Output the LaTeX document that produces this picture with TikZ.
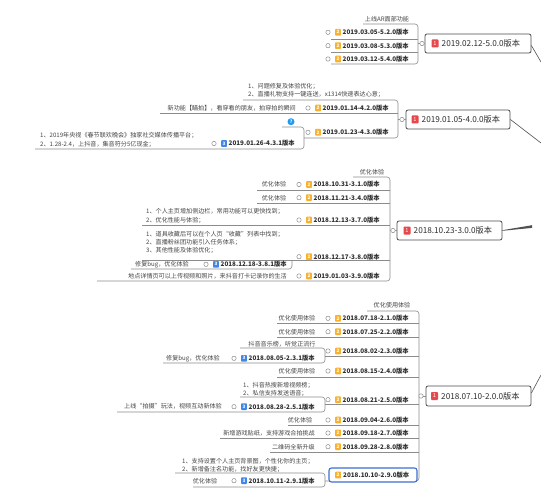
\documentclass[tikz,border=0pt]{standalone}
\usepackage{fontspec}
\newfontfamily\cjk{Noto Sans CJK SC}
\definecolor{lc}{HTML}{8C8C8C}
\definecolor{boxc}{HTML}{4A4A4A}
\definecolor{notec}{HTML}{444444}
\definecolor{verc}{HTML}{2E2E2E}
\definecolor{bred}{HTML}{E5484D}
\definecolor{borg}{HTML}{F7B12E}
\definecolor{bblu}{HTML}{3F86E8}
\definecolor{hlp}{HTML}{1E9BF0}
\definecolor{hl}{HTML}{3B6FD6}
\definecolor{spc}{HTML}{505050}
\newcommand\nfont{\cjk\fontsize{6.1}{7}\selectfont}
\newcommand\vfont{\cjk\bfseries\fontsize{6.3}{7}\selectfont}
\newcommand\mfont{\cjk\fontsize{8.2}{9}\selectfont}
\newcommand\bfnt{\cjk\bfseries\fontsize{4.6}{5}\selectfont}
\tikzset{
  ln/.style={draw=lc, line width=0.6pt},
  rc/.style={rounded corners=3pt},
  note/.style={font=\nfont, text=notec, inner sep=0pt},
  ver/.style={font=\vfont, text=verc, inner sep=0pt, anchor=west},
  bdg/.style={fill=#1, text=white, font=\bfnt, minimum width=5.8pt, minimum height=6.6pt, inner sep=0pt, rounded corners=0.7pt},
  mbdg/.style={fill=bred, text=white, font=\cjk\fontsize{5.6}{6}\selectfont, minimum width=7pt, minimum height=8pt, inner sep=0pt, rounded corners=0.8pt},
  dotc/.style={circle, draw=lc, line width=0.5pt, fill=white, minimum size=4.4pt, inner sep=0pt},
  mainbox/.style={draw=boxc, line width=0.8pt, rounded corners=2pt, fill=white, minimum height=19pt, inner sep=0pt},
  mtext/.style={font=\mfont, text=verc, inner sep=0pt, anchor=west},
  spine/.style={draw=spc, line width=0.6pt}
}
\newcommand\vrow[6]{%
  \node[dotc] (#1c) at (#2,#3) {};
  \node[bdg=#4] (#1b) at ({#2+10},#3) {#5};
  \node[ver] (#1) at ({#2+14.5},#3) {#6};
}
\begin{document}
\begin{tikzpicture}[x=1pt,y=-1pt]
\useasboundingbox[fill=white] (0,0) rectangle (541,500);

% ---------------- group 1 ----------------
\draw[ln,rc] (363,24) -| (418,64) -- (331,64);
\draw[ln] (331,39) -- (418,39);
\draw[ln] (331,52) -- (418,52);
\node[mainbox, minimum width=106pt] (m1) at (478,43.5) {};
\draw[ln] (418,43.5) -- (m1.west);
\node[dotc] (m1c) at (422,43.5) {};
\node[mbdg] (m1b) at (435,43.5) {1};
\node[mtext] (m1t) at (441.5,43.5) {2019.02.12-5.0.0版本};
\coordinate (s1) at (541,62);
\draw[spine] ([yshift=-2pt]m1.east) -- (s1);
\node[note] (n1a) at (387,19.5) {上线AR面部功能};
\vrow{r520}{328}{32.3}{borg}{2}{2019.03.05-5.2.0版本}
\vrow{r530}{328}{45.7}{borg}{2}{2019.03.08-5.3.0版本}
\vrow{r540}{328}{59}{borg}{2}{2019.03.12-5.4.0版本}

% ---------------- group 2 ----------------
\draw[ln,rc] (243,100) -| (398,138) -- (304,138);
\draw[ln] (160,113) -- (398,113);
\draw[ln,rc] (282,127) -| (304,149) -- (35,149);
\node[mainbox, minimum width=104pt] (m2) at (458,119.5) {};
\draw[ln] (398,119.5) -- (m2.west);
\node[dotc] (m2c) at (402,119.5) {};
\node[mbdg] (m2b) at (415,119.5) {1};
\node[mtext] (m2t) at (421.5,119.5) {2019.01.05-4.0.0版本};
\coordinate (s2) at (541,143);
\draw[spine] (m2.east) -- (s2);
\node[note, anchor=west] (n2a) at (248,86) {1、问题修复及体验优化；};
\node[note, anchor=west] (n2b) at (248,94.5) {2、直播礼物支持一键连送，x1314快速表达心意；};
\node[note, anchor=east] (n2c) at (296,108) {新功能【瞄拍】，看穿看的朋友，拍穿拍的瞬间};
\vrow{r420}{308}{108}{borg}{2}{2019.01.14-4.2.0版本}
\node[circle, fill=hlp, text=white, font=\bfnt, minimum size=7pt, inner sep=0pt] (q1) at (291,121.7) {?};
\vrow{r430}{308}{132.3}{borg}{2}{2019.01.23-4.3.0版本}
\node[note, anchor=west] (n2d) at (40,135.7) {1、2019年央视《春节联欢晚会》独家社交媒体传播平台；};
\node[note, anchor=west] (n2e) at (40,144) {2、1.28-2.4，上抖音，集音符分5亿现金；};
\vrow{r431}{214}{143.5}{bblu}{3}{2019.01.26-4.3.1版本}

% ---------------- group 3 ----------------
\draw[ln,rc] (353,177) -| (390,281) -- (97,281);
\draw[ln] (257,190) -- (390,190);
\draw[ln] (257,203) -- (390,203);
\draw[ln] (142,225) -- (390,225);
\draw[ln] (142,260) -- (390,260);
\draw[ln,rc] (292,260) |- (131,269);
\node[mainbox, minimum width=105pt] (m3) at (449.5,230.5) {};
\draw[ln] (390,230.5) -- (m3.west);
\node[dotc] (m3c) at (393,230.5) {};
\node[mbdg] (m3b) at (407,230.5) {1};
\node[mtext] (m3t) at (413.5,230.5) {2018.10.23-3.0.0版本};
\coordinate (s3a) at (532,225.2);
\coordinate (s3b) at (532,227.9);
\fill[spc] ([yshift=0.3pt]m3.east) -- (s3a) -- (s3b) -- ([yshift=-0.3pt]m3.east) -- cycle;
\node[note] (n3a) at (372,172) {优化体验};
\node[note] (n3b) at (274,184.5) {优化体验};
\vrow{r310}{299}{184.5}{borg}{2}{2018.10.31-3.1.0版本}
\node[note] (n3c) at (274,197.7) {优化体验};
\vrow{r340}{299}{197.7}{borg}{2}{2018.11.21-3.4.0版本}
\node[note, anchor=west] (n3d) at (146,211.7) {1、个人主页增加侧边栏，常用功能可以更快找到；};
\node[note, anchor=west] (n3e) at (146,220) {2、优化性能与体验；};
\vrow{r370}{299}{220}{borg}{2}{2018.12.13-3.7.0版本}
\node[note, anchor=west] (n3f) at (146,234) {1、道具收藏后可以在个人页“收藏”列表中找到；};
\node[note, anchor=west] (n3g) at (146,242) {2、直播粉丝团功能引入任务体系；};
\node[note, anchor=west] (n3h) at (146,250) {3、其他性能及体验优化；};
\vrow{r380}{299}{256.7}{borg}{2}{2018.12.17-3.8.0版本}
\node[note, anchor=west] (n3i) at (135,264.3) {修复bug，优化体验};
\vrow{r381}{206}{264.3}{bblu}{3}{2018.12.18-3.8.1版本}
\node[note, anchor=east] (n3j) at (287,276) {地点详情页可以上传视频和照片，来抖音打卡记录你的生活};
\vrow{r390}{299}{276}{borg}{2}{2019.01.03-3.9.0版本}

% ---------------- group 4 ----------------
\draw[ln,rc] (367,311) -| (419,481) -- (325,481);
\draw[ln] (277,323) -- (419,323);
\draw[ln] (277,337) -- (419,337);
\draw[ln,rc] (240,348) -| (325,363) -- (163,363);
\draw[ln] (325,356) -- (419,356);
\draw[ln] (277,377) -- (419,377);
\draw[ln,rc] (240,397) -| (325,412) -- (117,412);
\draw[ln] (325,404) -- (419,404);
\draw[ln] (288,425) -- (419,425);
\draw[ln] (220,438) -- (419,438);
\draw[ln] (270,452) -- (419,452);
\draw[ln,rc] (175,473) -| (325,487) -- (193,487);
\node[mainbox, minimum width=105pt, minimum height=20pt] (m4) at (478.5,396) {};
\draw[ln] (419,396) -- (m4.west);
\node[dotc] (m4c) at (421,396) {};
\node[mbdg] (m4b) at (434.5,396) {1};
\node[mtext] (m4t) at (441,396) {2018.07.10-2.0.0版本};
\coordinate (s4) at (541,375);
\draw[spine] ([yshift=3pt]m4.east) -- (s4);
\node[note] (n4a) at (392,305) {优化使用体验};
\node[note] (n4b) at (297,318.3) {优化使用体验};
\vrow{r210}{328}{318.3}{borg}{2}{2018.07.18-2.1.0版本}
\node[note] (n4c) at (297,331.7) {优化使用体验};
\vrow{r220}{328}{331.7}{borg}{2}{2018.07.25-2.2.0版本}
\node[note] (n4d) at (282,344) {抖音音乐榜，听觉正流行};
\vrow{r230}{328}{351}{borg}{2}{2018.08.02-2.3.0版本}
\node[note] (n4e) at (193,358.3) {修复bug，优化体验};
\vrow{r231}{234}{358.3}{bblu}{3}{2018.08.05-2.3.1版本}
\node[note] (n4f) at (297,371) {优化使用体验};
\vrow{r240}{328}{371}{borg}{2}{2018.08.15-2.4.0版本}
\node[note, anchor=west] (n4g) at (243,385) {1、抖音热搜新增视频榜；};
\node[note, anchor=west] (n4h) at (243,393) {2、私信支持发送语音；};
\vrow{r250}{328}{399.7}{borg}{2}{2018.08.21-2.5.0版本}
\node[note, anchor=east] (n4i) at (222,406.7) {上线“拍摄”玩法，视频互动新体验};
\vrow{r251}{234}{406.7}{bblu}{3}{2018.08.28-2.5.1版本}
\node[note] (n4j) at (300,420) {优化体验};
\vrow{r260}{328}{420}{borg}{2}{2018.09.04-2.6.0版本}
\node[note, anchor=east] (n4k) at (315,433) {新增游戏贴纸，支持游戏合拍挑战};
\vrow{r270}{328}{433}{borg}{2}{2018.09.18-2.7.0版本}
\node[note, anchor=east] (n4l) at (315,446.7) {二维码全新升级};
\vrow{r280}{328}{446.7}{borg}{2}{2018.09.28-2.8.0版本}
\node[note, anchor=west] (n4m) at (182,461) {1、支持设置个人主页背景图，个性化你的主页；};
\node[note, anchor=west] (n4n) at (182,469.3) {2、新增备注名功能，找好友更快捷；};
\node[draw=hl, line width=1.1pt, rounded corners=2.5pt, fill=white, minimum width=88pt, minimum height=14pt, inner sep=0pt] (h290) at (373,475) {};
\node[bdg=borg] (r290b) at (338,475) {2};
\node[ver] (r290) at (343,475) {2018.10.10-2.9.0版本};
\node[note] (n4o) at (205,480.7) {优化体验};
\vrow{r291}{234}{480.7}{bblu}{3}{2018.10.11-2.9.1版本}
\end{tikzpicture}
\end{document}
